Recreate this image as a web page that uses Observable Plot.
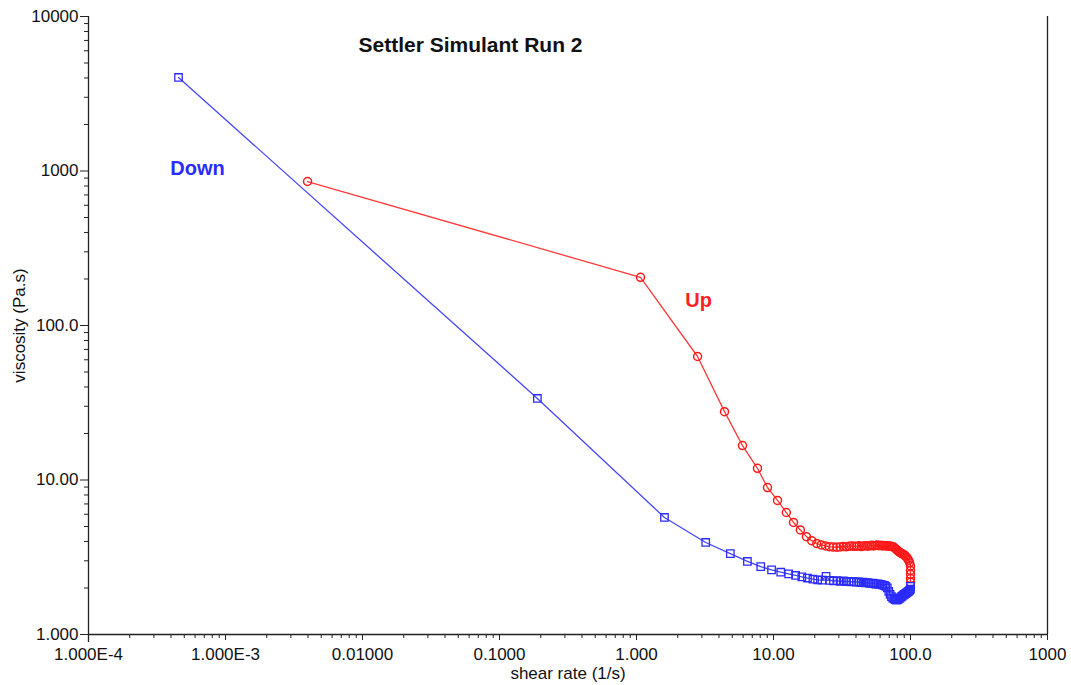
<!DOCTYPE html>
<html>
<head>
<meta charset="utf-8">
<script src="https://cdn.jsdelivr.net/npm/d3@7"></script>
<script src="https://cdn.jsdelivr.net/npm/@observablehq/plot@0.6"></script>
<style>
  html, body { margin: 0; padding: 0; background: #fff; }
  #chart svg { display: block; }
</style>
</head>
<body>
<div id="chart"></div>
<script>
// ---- Data ----
const titleText = "Settler Simulant Run 2";
const xAxisLabel = "shear rate (1/s)";
const yAxisLabel = "viscosity (Pa.s)";

const xTickValues = [1e-4, 1e-3, 0.01, 0.1, 1, 10, 100, 1000];
const xTickLabels = ["1.000E-4", "1.000E-3", "0.01000", "0.1000", "1.000", "10.00", "100.0", "1000"];
const yTickValues = [1, 10, 100, 1000, 10000];
const yTickLabels = ["1.000", "10.00", "100.0", "1000", "10000"];

// "Up" sweep (red circles)
const upX = [0.00397, 1.07, 2.79, 4.39, 5.94, 7.64, 9.04, 10.7, 12.4, 14.0,
  15.7, 17.4, 19.0, 20.7, 22.3, 24.0, 25.6, 27.3, 29.0, 30.6,
  32.3, 33.9, 35.6, 37.2, 38.9, 40.6, 42.2, 43.9, 45.5, 47.2,
  48.8, 50.5, 52.2, 53.8, 55.5, 57.1, 58.8, 60.4, 62.1, 63.8,
  65.4, 67.1, 68.7, 70.4, 72.0, 73.7, 75.4, 77.0, 78.7, 80.3,
  82.0, 83.6, 85.3, 87.0, 88.6, 90.3, 91.9, 93.6, 95.2, 96.9,
  98.5, 100.0, 100.0, 100.0, 100.0, 100.0];
const upY = [855, 205, 63.0, 27.7, 16.7, 11.9, 8.94, 7.37, 6.16, 5.31,
  4.75, 4.30, 4.05, 3.88, 3.80, 3.74, 3.70, 3.68, 3.67, 3.69,
  3.71, 3.70, 3.72, 3.74, 3.72, 3.73, 3.75, 3.71, 3.74, 3.76,
  3.73, 3.75, 3.78, 3.74, 3.77, 3.79, 3.76, 3.78, 3.74, 3.77,
  3.74, 3.76, 3.73, 3.74, 3.72, 3.70, 3.68, 3.62, 3.56, 3.50,
  3.44, 3.40, 3.36, 3.33, 3.30, 3.27, 3.22, 3.17, 3.10, 3.02,
  2.92, 2.78, 2.60, 2.45, 2.30, 2.18];

// "Down" sweep (blue squares)
const downX = [0.000454, 0.189, 1.6, 3.2, 4.84, 6.45, 8.07, 9.68, 11.3, 12.9,
  14.5, 16.1, 17.7, 19.4, 21.0, 22.6, 24.2, 25.8, 27.4, 29.0,
  30.6, 32.3, 33.9, 35.5, 37.1, 38.7, 40.3, 41.9, 43.5, 45.2,
  46.8, 48.4, 50.0, 51.6, 53.2, 54.8, 56.4, 58.1, 59.7, 61.3,
  62.9, 64.5, 66.1, 67.7, 69.4, 71.0, 72.6, 74.2, 75.8, 77.4,
  79.0, 80.6, 82.3, 83.9, 85.5, 87.1, 88.7, 90.3, 91.9, 93.5,
  95.2, 96.8, 98.4, 100.0, 100.0];
const downY = [4030, 33.7, 5.72, 3.94, 3.34, 2.97, 2.75, 2.62, 2.53, 2.47,
  2.41, 2.36, 2.32, 2.28, 2.26, 2.25, 2.38, 2.24, 2.22, 2.23,
  2.21, 2.22, 2.20, 2.21, 2.19, 2.20, 2.18, 2.19, 2.17, 2.18,
  2.16, 2.17, 2.15, 2.14, 2.15, 2.13, 2.12, 2.13, 2.11, 2.10,
  2.09, 2.08, 2.05, 2.00, 1.90, 1.82, 1.76, 1.72, 1.70, 1.68,
  1.67, 1.68, 1.70, 1.72, 1.75, 1.77, 1.80, 1.82, 1.84, 1.86,
  1.88, 1.90, 1.93, 1.97, 2.05];

// Series labels placed in data space
const seriesLabels = [
  {name: "Down", x: 0.000625, y: 1040, color: "#2b2bff"},
  {name: "Up", x: 2.84, y: 145, color: "#ff2020"}
];
const titlePos = {x: 0.0614, y: 6500};

// ---- Build tables ----
const upData = upX.map((x, i) => ({x, y: upY[i]}));
const downData = downX.map((x, i) => ({x, y: downY[i]}));
const xMap = new Map(xTickValues.map((v, i) => [v, xTickLabels[i]]));
const yMap = new Map(yTickValues.map((v, i) => [v, yTickLabels[i]]));
const xMinor = [];
for (const d of xTickValues.slice(0, -1)) for (let k = 2; k <= 9; k++) xMinor.push(d * k);
const yMinor = [];
for (const d of yTickValues.slice(0, -1)) for (let k = 2; k <= 9; k++) yMinor.push(d * k);

const blueLine = "#4646ff";
const blueMark = "#2b2bff";
const redLine = "#ff3a3a";
const redMark = "#ff1a1a";
const axisColor = "#222";

const chart = Plot.plot({
  width: 1071,
  height: 685,
  marginLeft: 88,
  marginRight: 24,
  marginTop: 16,
  marginBottom: 51,
  style: {fontFamily: "Liberation Sans, Arial, sans-serif", fontSize: "17px", background: "#fff", color: "#111"},
  x: {type: "log", domain: [1e-4, 1000]},
  y: {type: "log", domain: [1, 10000]},
  marks: [
    // frame lines
    Plot.ruleY([1], {stroke: axisColor, strokeWidth: 1.3}),
    Plot.ruleX([1e-4], {stroke: axisColor, strokeWidth: 1.3, insetBottom: -8}),
    Plot.ruleX([1000], {stroke: axisColor, strokeWidth: 1.3}),
    // axes
    Plot.axisX(xMinor, {tickSize: 4, tickFormat: () => "", stroke: axisColor, label: null}),
    Plot.axisX(xTickValues, {tickSize: 6, tickPadding: 7, tickFormat: d => xMap.get(d), stroke: axisColor, fill: "#111",
      fontSize: 17, label: xAxisLabel, labelAnchor: "center", labelArrow: "none", labelOffset: 44}),
    Plot.axisY(yMinor, {tickSize: 4, tickFormat: () => "", stroke: axisColor, label: null}),
    Plot.axisY(yTickValues, {tickSize: 8, tickPadding: 2, tickFormat: d => yMap.get(d), stroke: axisColor, fill: "#111",
      fontSize: 17, label: yAxisLabel, labelAnchor: "center", labelArrow: "none", labelOffset: 76}),
    // Up series
    Plot.line(upData, {x: "x", y: "y", stroke: redLine, strokeWidth: 1.3}),
    Plot.dot(upData, {x: "x", y: "y", symbol: "circle", r: 4, stroke: redMark, strokeWidth: 1.5, fill: "none"}),
    // Down series
    Plot.line(downData, {x: "x", y: "y", stroke: blueLine, strokeWidth: 1.3}),
    Plot.dot(downData, {x: "x", y: "y", symbol: "square", r: 4.2, stroke: blueMark, strokeWidth: 1.3, fill: "none"}),
    // labels
    Plot.text(seriesLabels, {x: "x", y: "y", text: "name", fill: "color", fontSize: 20, fontWeight: "bold"}),
    Plot.text([titleText], {x: titlePos.x, y: titlePos.y, text: d => d, fontSize: 21, fontWeight: "bold", fill: "#111"})
  ]
});
document.getElementById("chart").appendChild(chart);
</script>
</body>
</html>
